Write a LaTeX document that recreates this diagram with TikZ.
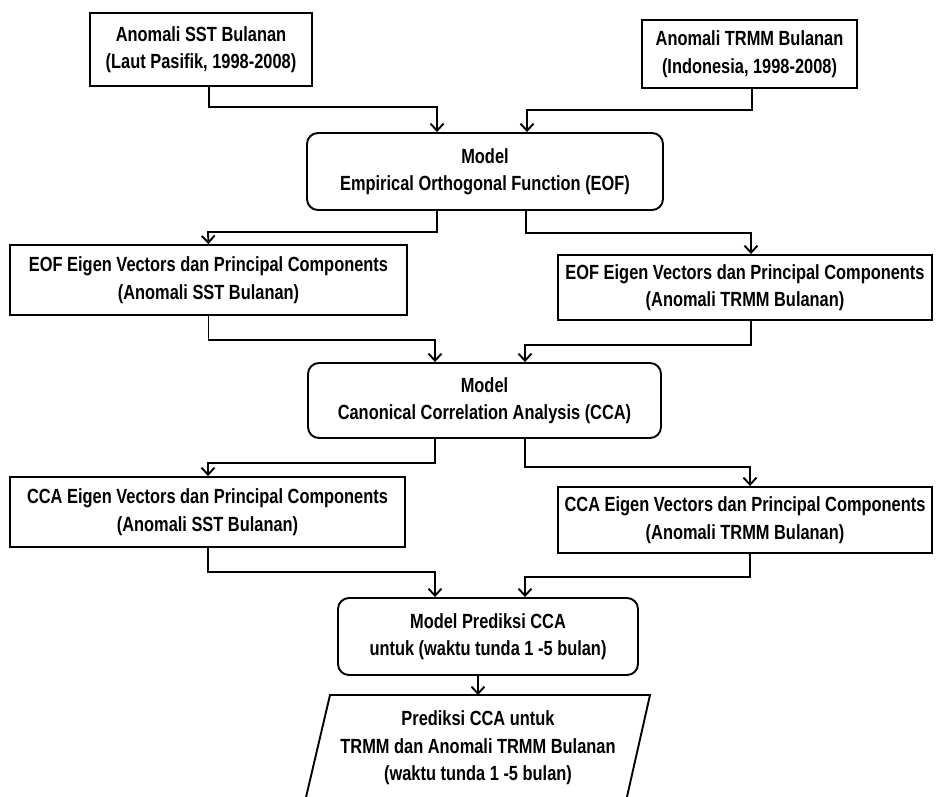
\documentclass[tikz,border=0pt]{standalone}
\usepackage{fontspec}
\setmainfont{Liberation Sans}[FakeStretch=0.8]
\usetikzlibrary{arrows.meta}
\begin{document}
\begin{tikzpicture}[x=1pt,y=-1pt,
  txt/.style={align=center,inner sep=0pt,font=\fontsize{20.5}{27.5}\selectfont\bfseries},
  box/.style={txt,draw,line width=1.9pt},
  rbox/.style={box,rounded corners=11pt},
  arr/.style={line width=1.9pt,-{Straight Barb[length=7pt,width=13pt,line width=1.9pt]}}]
\clip (0,0) rectangle (936,796);
\fill[white] (0,0) rectangle (936,796);
% nodes
\node[box,minimum width=222pt,minimum height=73pt] (b1) at (201,49.5) {Anomali SST Bulanan\\(Laut Pasifik, 1998-2008)};
\node[box,minimum width=215pt,minimum height=68pt] (b2) at (749.5,54) {Anomali TRMM Bulanan\\(Indonesia, 1998-2008)};
\node[rbox,minimum width=356pt,minimum height=77pt] (eof) at (485,171.5) {Model\\Empirical Orthogonal Function (EOF)};
\node[box,minimum width=397pt,minimum height=70pt] (eofs) at (208.5,280) {EOF Eigen Vectors dan Principal Components\\(Anomali SST Bulanan)};
\node[box,minimum width=374pt,minimum height=65pt] (eoft) at (745,287.5) {EOF Eigen Vectors dan Principal Components\\(Anomali TRMM Bulanan)};
\node[rbox,minimum width=353pt,minimum height=75pt] (cca) at (484.5,400.5) {Model\\Canonical Correlation Analysis (CCA)};
\node[box,minimum width=395pt,minimum height=70pt] (ccas) at (207.5,512) {CCA Eigen Vectors dan Principal Components\\(Anomali SST Bulanan)};
\node[box,minimum width=374pt,minimum height=66pt] (ccat) at (745,520) {CCA Eigen Vectors dan Principal Components\\(Anomali TRMM Bulanan)};
\node[rbox,minimum width=300pt,minimum height=77pt] (pred) at (488,636.5) {Model Prediksi CCA\\untuk (waktu tunda 1 -5 bulan)};
\draw[line width=1.9pt] (330,695) -- (650,695) -- (624,810) -- (303,810) -- cycle;
\node[txt] (out) at (478,748) {Prediksi CCA untuk\\TRMM dan Anomali TRMM Bulanan\\(waktu tunda 1 -5 bulan)};
\coordinate (outtop) at (478,695);
% connectors
\draw[arr] ([xshift=8pt]b1.south) |- (437,107) -- ([xshift=-48pt]eof.north);
\draw[arr] ([xshift=2.5pt]b2.south) |- (527,110) -- ([xshift=42pt]eof.north);
\draw[arr] ([xshift=-48pt]eof.south) |- (208,232) -- (eofs.north);
\draw[arr] ([xshift=41pt]eof.south) |- (751,233) -- ([xshift=6pt]eoft.north);
\draw[arr] (eofs.south) |- (435,340) -- ([xshift=-49.5pt]cca.north);
\draw[arr] ([xshift=6pt]eoft.south) |- (525,345) -- ([xshift=40.5pt]cca.north);
\draw[arr] ([xshift=-49.5pt]cca.south) |- (208,463) -- ([xshift=0.5pt]ccas.north);
\draw[arr] ([xshift=40.5pt]cca.south) |- (750,467) -- ([xshift=5pt]ccat.north);
\draw[arr] ([xshift=0.5pt]ccas.south) |- (435,572) -- ([xshift=-53pt]pred.north);
\draw[arr] ([xshift=5pt]ccat.south) |- (525,577) -- ([xshift=37pt]pred.north);
\draw[arr] ([xshift=-10pt]pred.south) -- (outtop);
\end{tikzpicture}
\end{document}
